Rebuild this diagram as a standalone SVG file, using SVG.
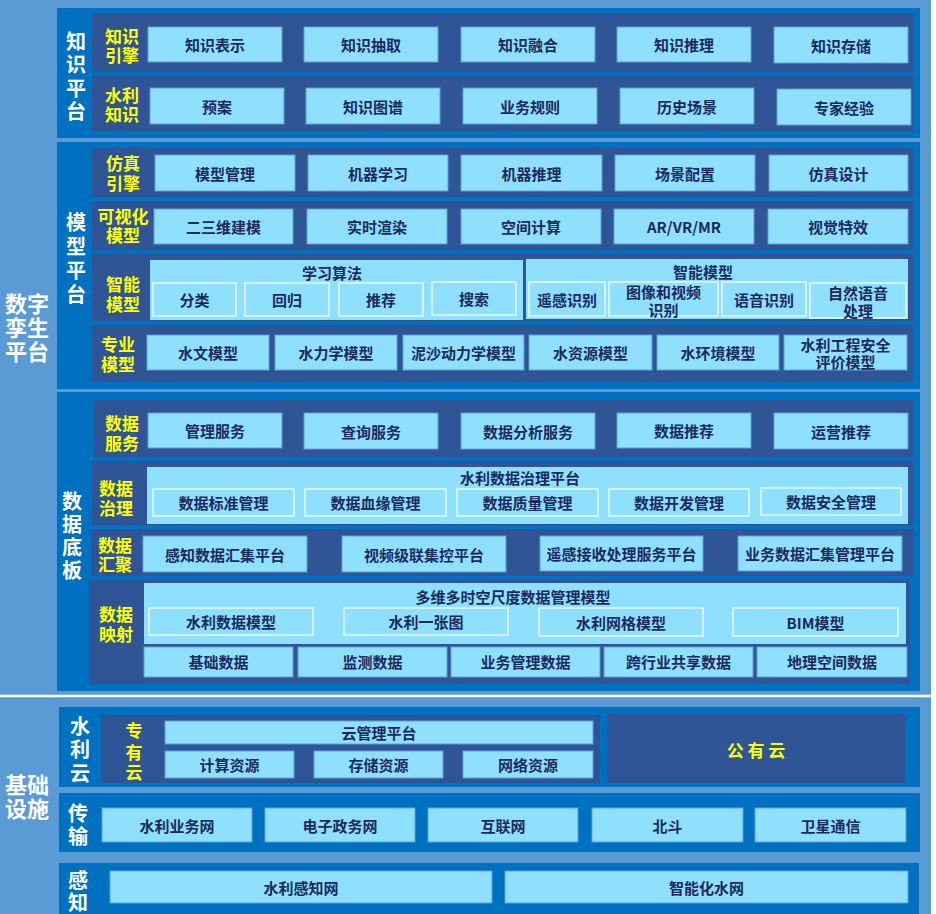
<svg xmlns="http://www.w3.org/2000/svg" width="936" height="914" viewBox="0 0 936 914">
<style>
.bg{fill:#5B9BD5}
.panel{fill:#0070C0}
.row{fill:#2F5597}
.box{fill:#8FE0FF;stroke:#5E9FD6;stroke-width:1}
.grp{fill:#8FE0FF}
.sub{fill:none;stroke:#EAF8FF;stroke-width:1.5}
text{font-family:"Noto Sans CJK SC","Noto Sans",sans-serif;font-weight:bold;text-anchor:middle;dominant-baseline:central}
.t{fill:#1B2A5E;font-size:15px}
.y{fill:#FFFF00;font-size:17px}
.w{fill:#FFFFFF;font-size:20px}
.W{fill:#FFFFFF;font-size:22px}
</style>
<rect x="0" y="0" width="936" height="914" fill="#FFFFFF"/>
<rect class="bg" x="0" y="0" width="931" height="914"/>
<line x1="0" y1="696" x2="931" y2="696" stroke="#FFFFFF" stroke-width="2.5"/>

<g id="title-digital">
<text class="W"><tspan x="27" y="302">数字</tspan><tspan x="27" y="326">孪生</tspan><tspan x="27" y="350">平台</tspan></text>
</g>
<g id="title-infra">
<text class="W"><tspan x="27" y="783">基础</tspan><tspan x="27" y="807">设施</tspan></text>
</g>

<!-- Knowledge platform -->
<g id="knowledge-platform">
<rect class="panel" x="57" y="8" width="863" height="130"/>
<text class="w"><tspan x="76" y="40">知</tspan><tspan x="76" y="63">识</tspan><tspan x="76" y="87">平</tspan><tspan x="76" y="110">台</tspan></text>
</g>
<g id="knowledge-engine">
<rect class="row" x="92" y="13" width="821" height="59"/>
<text class="y"><tspan x="122" y="35">知识</tspan><tspan x="122" y="54">引擎</tspan></text>
<rect class="box" x="148" y="27" width="134" height="35"/><text class="t" x="215" y="44.5">知识表示</text>
<rect class="box" x="304" y="27" width="134" height="35"/><text class="t" x="371" y="44.5">知识抽取</text>
<rect class="box" x="461" y="27" width="134" height="35"/><text class="t" x="528" y="44.5">知识融合</text>
<rect class="box" x="617" y="27" width="134" height="35"/><text class="t" x="684" y="44.5">知识推理</text>
<rect class="box" x="774" y="27" width="134" height="36"/><text class="t" x="841" y="45">知识存储</text>
</g>
<g id="water-knowledge">
<rect class="row" x="92" y="76" width="821" height="55"/>
<text class="y"><tspan x="122" y="94">水利</tspan><tspan x="122" y="113">知识</tspan></text>
<rect class="box" x="150" y="88" width="134" height="36"/><text class="t" x="217" y="106">预案</text>
<rect class="box" x="306" y="88" width="134" height="36"/><text class="t" x="373" y="106">知识图谱</text>
<rect class="box" x="463" y="88" width="134" height="36"/><text class="t" x="530" y="106">业务规则</text>
<rect class="box" x="620" y="88" width="134" height="36"/><text class="t" x="687" y="106">历史场景</text>
<rect class="box" x="777" y="89" width="134" height="36"/><text class="t" x="844" y="107">专家经验</text>
</g>

<!-- Model platform -->
<g id="model-platform">
<rect class="panel" x="57" y="142" width="863" height="247"/>
<text class="w"><tspan x="76" y="221">模</tspan><tspan x="76" y="245">型</tspan><tspan x="76" y="269">平</tspan><tspan x="76" y="293">台</tspan></text>
</g>
<g id="sim-engine">
<rect class="row" x="92" y="148" width="821" height="49"/>
<text class="y"><tspan x="123" y="162">仿真</tspan><tspan x="123" y="182">引擎</tspan></text>
<rect class="box" x="155" y="155" width="140" height="36"/><text class="t" x="225" y="173">模型管理</text>
<rect class="box" x="308" y="155" width="140" height="36"/><text class="t" x="378" y="173">机器学习</text>
<rect class="box" x="461" y="155" width="141" height="36"/><text class="t" x="531.5" y="173">机器推理</text>
<rect class="box" x="615" y="155" width="140" height="36"/><text class="t" x="685" y="173">场景配置</text>
<rect class="box" x="769" y="155" width="139" height="36"/><text class="t" x="838.5" y="173">仿真设计</text>
</g>
<g id="vis-model">
<rect class="row" x="92" y="201" width="821" height="49"/>
<text class="y"><tspan x="123" y="215">可视化</tspan><tspan x="123" y="234">模型</tspan></text>
<rect class="box" x="154" y="209" width="139" height="35"/><text class="t" x="223.5" y="226.5">二三维建模</text>
<rect class="box" x="307" y="209" width="140" height="35"/><text class="t" x="377" y="226.5">实时渲染</text>
<rect class="box" x="461" y="209" width="140" height="35"/><text class="t" x="531" y="226.5">空间计算</text>
<rect class="box" x="614" y="209" width="140" height="35"/><text class="t" x="684" y="226.5">AR/VR/MR</text>
<rect class="box" x="768" y="209" width="140" height="35"/><text class="t" x="838" y="226.5">视觉特效</text>
</g>
<g id="smart-model">
<rect class="row" x="92" y="254" width="821" height="67"/>
<text class="y"><tspan x="123" y="283">智能</tspan><tspan x="123" y="303">模型</tspan></text>
<rect class="grp" x="150" y="260" width="373" height="60"/>
<text class="t" x="332" y="272">学习算法</text>
<rect class="sub" x="153" y="283" width="83" height="33"/><text class="t" x="194.5" y="299.5">分类</text>
<rect class="sub" x="245" y="283" width="84" height="33"/><text class="t" x="287" y="299.5">回归</text>
<rect class="sub" x="339" y="283" width="84" height="33"/><text class="t" x="381" y="299.5">推荐</text>
<rect class="sub" x="432" y="282" width="84" height="33"/><text class="t" x="474" y="298.5">搜索</text>
<rect class="grp" x="526" y="259" width="382" height="60"/>
<text class="t" x="703" y="271">智能模型</text>
<rect class="sub" x="529" y="282" width="76" height="34"/><text class="t" x="567" y="299">遥感识别</text>
<rect class="sub" x="609" y="282" width="109" height="34"/><text class="t"><tspan x="663.5" y="291">图像和视频</tspan><tspan x="663.5" y="309">识别</tspan></text>
<rect class="sub" x="722" y="282" width="84" height="34"/><text class="t" x="764" y="299">语音识别</text>
<rect class="sub" x="810" y="283" width="96" height="35"/><text class="t"><tspan x="858" y="292">自然语音</tspan><tspan x="858" y="310">处理</tspan></text>
</g>
<g id="pro-model">
<rect class="row" x="92" y="325" width="821" height="57"/>
<text class="y"><tspan x="118" y="343">专业</tspan><tspan x="118" y="363">模型</tspan></text>
<rect class="box" x="147" y="335" width="122" height="35"/><text class="t" x="208" y="352.5">水文模型</text>
<rect class="box" x="275" y="335" width="122" height="35"/><text class="t" x="336" y="352.5">水力学模型</text>
<rect class="box" x="403" y="335" width="121" height="35"/><text class="t" x="463.5" y="352.5">泥沙动力学模型</text>
<rect class="box" x="529" y="335" width="123" height="35"/><text class="t" x="590.5" y="352.5">水资源模型</text>
<rect class="box" x="657" y="335" width="122" height="35"/><text class="t" x="718" y="352.5">水环境模型</text>
<rect class="box" x="784" y="335" width="123" height="35"/><text class="t"><tspan x="845.5" y="344">水利工程安全</tspan><tspan x="845.5" y="361">评价模型</tspan></text>
</g>

<!-- Data base -->
<g id="data-platform">
<rect class="panel" x="57" y="392" width="863" height="299"/>
<text class="w"><tspan x="72" y="500">数</tspan><tspan x="72" y="523">据</tspan><tspan x="72" y="546">底</tspan><tspan x="72" y="569">板</tspan></text>
</g>
<g id="data-service">
<rect class="row" x="94" y="400" width="819" height="57"/>
<text class="y"><tspan x="122" y="422">数据</tspan><tspan x="122" y="442">服务</tspan></text>
<rect class="box" x="148" y="413" width="134" height="35"/><text class="t" x="215" y="430.5">管理服务</text>
<rect class="box" x="304" y="413" width="134" height="36"/><text class="t" x="371" y="431">查询服务</text>
<rect class="box" x="461" y="413" width="134" height="36"/><text class="t" x="528" y="431">数据分析服务</text>
<rect class="box" x="617" y="413" width="134" height="35"/><text class="t" x="684" y="430.5">数据推荐</text>
<rect class="box" x="774" y="413" width="134" height="36"/><text class="t" x="841" y="431">运营推荐</text>
</g>
<g id="data-governance">
<rect class="row" x="92" y="461" width="821" height="64"/>
<text class="y"><tspan x="116" y="487">数据</tspan><tspan x="116" y="507">治理</tspan></text>
<rect class="grp" x="147" y="467" width="761" height="57"/>
<text class="t" x="520" y="477">水利数据治理平台</text>
<rect class="sub" x="153" y="489" width="141" height="27"/><text class="t" x="223.5" y="502.5">数据标准管理</text>
<rect class="sub" x="305" y="489" width="141" height="27"/><text class="t" x="375.5" y="502.5">数据血缘管理</text>
<rect class="sub" x="457" y="489" width="141" height="27"/><text class="t" x="527.5" y="502.5">数据质量管理</text>
<rect class="sub" x="609" y="489" width="140" height="27"/><text class="t" x="679" y="502.5">数据开发管理</text>
<rect class="sub" x="761" y="488" width="140" height="27"/><text class="t" x="831" y="501.5">数据安全管理</text>
</g>
<g id="data-converge">
<rect class="row" x="91" y="529" width="822" height="47"/>
<text class="y"><tspan x="115" y="544">数据</tspan><tspan x="115" y="563">汇聚</tspan></text>
<rect class="box" x="143" y="536" width="164" height="36"/><text class="t" x="225" y="554">感知数据汇集平台</text>
<rect class="box" x="342" y="536" width="164" height="36"/><text class="t" x="424" y="554">视频级联集控平台</text>
<rect class="box" x="540" y="536" width="163" height="35"/><text class="t" x="621.5" y="553.5">遥感接收处理服务平台</text>
<rect class="box" x="738" y="536" width="164" height="35"/><text class="t" x="820" y="553.5">业务数据汇集管理平台</text>
</g>
<g id="data-mapping">
<rect class="row" x="89" y="580" width="821" height="104"/>
<text class="y"><tspan x="116" y="613">数据</tspan><tspan x="116" y="633">映射</tspan></text>
<rect class="grp" x="144" y="583" width="762" height="61"/>
<text class="t" x="513" y="596">多维多时空尺度数据管理模型</text>
<rect class="sub" x="149" y="608" width="164" height="27"/><text class="t" x="231" y="621.5">水利数据模型</text>
<rect class="sub" x="344" y="608" width="164" height="27"/><text class="t" x="426" y="621.5">水利一张图</text>
<rect class="sub" x="539" y="608" width="164" height="28"/><text class="t" x="621" y="622">水利网格模型</text>
<rect class="sub" x="733" y="608" width="165" height="28"/><text class="t" x="815.5" y="622">BIM模型</text>
<rect class="box" x="144" y="647" width="149" height="30"/><text class="t" x="218.5" y="661">基础数据</text>
<rect class="box" x="298" y="647" width="149" height="30"/><text class="t" x="372.5" y="661">监测数据</text>
<rect class="box" x="451" y="647" width="149" height="30"/><text class="t" x="525.5" y="661">业务管理数据</text>
<rect class="box" x="604" y="647" width="149" height="30"/><text class="t" x="678.5" y="661">跨行业共享数据</text>
<rect class="box" x="757" y="647" width="150" height="30"/><text class="t" x="832" y="661">地理空间数据</text>
</g>

<!-- Infrastructure -->
<g id="water-cloud">
<rect class="panel" x="59" y="707" width="861" height="80"/>
<text class="w"><tspan x="80" y="725">水</tspan><tspan x="80" y="748">利</tspan><tspan x="80" y="772">云</tspan></text>
</g>
<g id="private-cloud">
<rect class="row" x="101" y="715" width="499" height="68"/>
<text class="y"><tspan x="134" y="729">专</tspan><tspan x="134" y="751">有</tspan><tspan x="134" y="771">云</tspan></text>
<rect class="box" x="165" y="721" width="428" height="23"/><text class="t" x="379" y="732.5">云管理平台</text>
<rect class="box" x="165" y="751" width="129" height="27"/><text class="t" x="229.5" y="764.5">计算资源</text>
<rect class="box" x="314" y="751" width="129" height="27"/><text class="t" x="378.5" y="764.5">存储资源</text>
<rect class="box" x="463" y="751" width="130" height="27"/><text class="t" x="528" y="764.5">网络资源</text>
</g>
<g id="public-cloud">
<rect class="row" x="607" y="714" width="298" height="69"/>
<text class="y" x="756" y="749">公 有 云</text>
</g>
<g id="transmission">
<rect class="panel" x="59" y="793" width="861" height="59"/>
<text class="w"><tspan x="78" y="812">传</tspan><tspan x="78" y="835">输</tspan></text>
<rect class="box" x="102" y="808" width="150" height="34"/><text class="t" x="177" y="825">水利业务网</text>
<rect class="box" x="265" y="808" width="150" height="34"/><text class="t" x="340" y="825">电子政务网</text>
<rect class="box" x="428" y="808" width="150" height="34"/><text class="t" x="503" y="825">互联网</text>
<rect class="box" x="592" y="808" width="151" height="34"/><text class="t" x="667.5" y="825">北斗</text>
<rect class="box" x="755" y="808" width="151" height="34"/><text class="t" x="830.5" y="825">卫星通信</text>
</g>
<g id="sensing">
<rect class="panel" x="59" y="863" width="860" height="51"/>
<text class="w"><tspan x="78" y="879">感</tspan><tspan x="78" y="901">知</tspan></text>
<rect class="box" x="110" y="871" width="382" height="32"/><text class="t" x="301" y="887">水利感知网</text>
<rect class="box" x="505" y="871" width="403" height="32"/><text class="t" x="706.5" y="887">智能化水网</text>
</g>
<g id="connectors"></g>
</svg>
